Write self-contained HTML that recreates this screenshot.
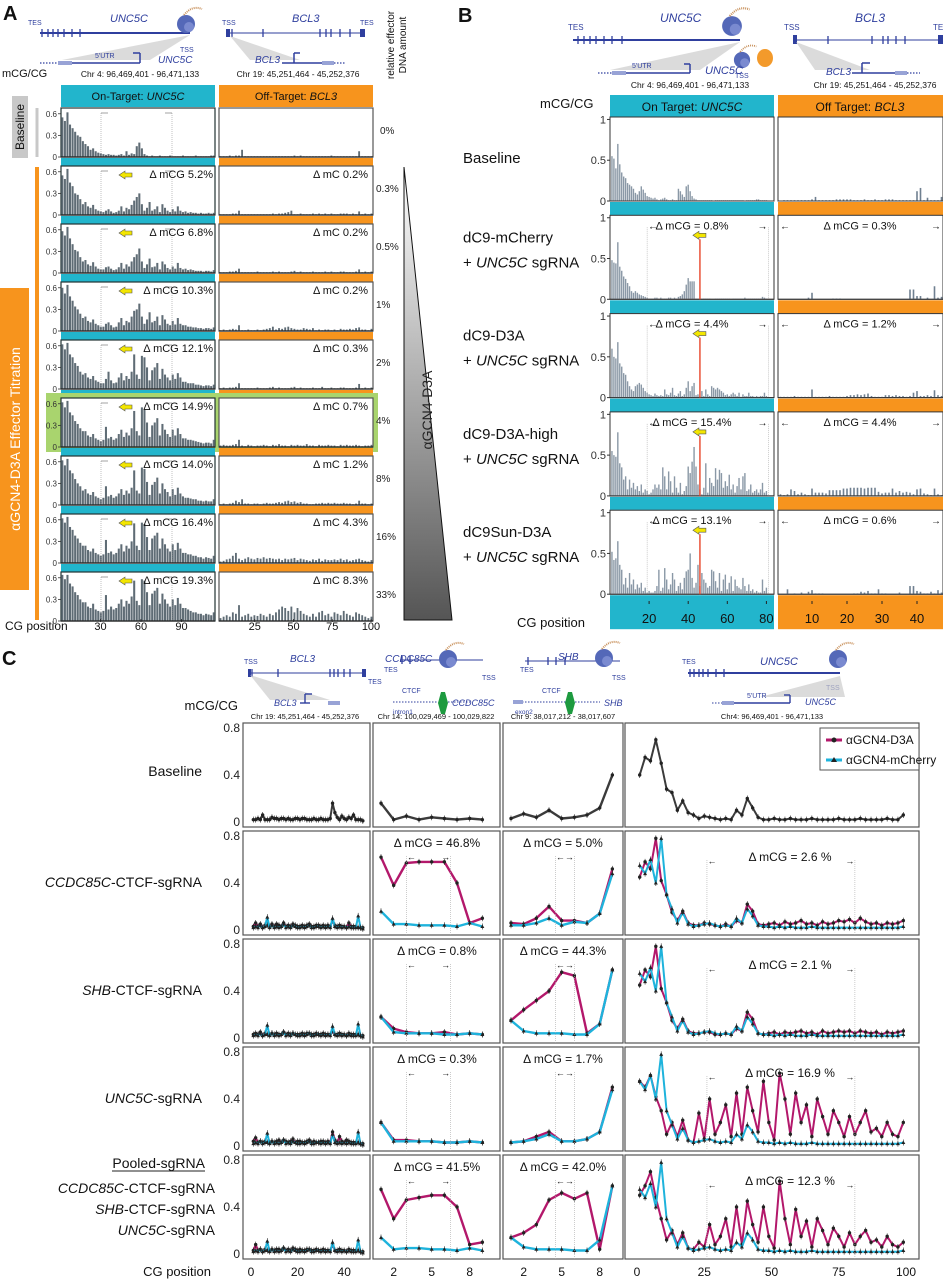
<!DOCTYPE html>
<html><head><meta charset="utf-8"><style>
html,body{margin:0;padding:0;background:#fff}
svg{display:block;font-family:"Liberation Sans",sans-serif}
</style></head><body>
<svg id="fig" width="943" height="1280" viewBox="0 0 943 1280" xmlns="http://www.w3.org/2000/svg">
<defs>
<linearGradient id="tri" x1="0" y1="0" x2="0" y2="1"><stop offset="0" stop-color="#ffffff"/><stop offset="1" stop-color="#555"/></linearGradient>
</defs>
</svg>
<script>
// ---------- Panel A data (mCG/CG in hundredths) ----------
const aOnRowLabels = ["0%","0.3%","0.5%","1%","2%","4%","8%","16%","33%"];
const aOnDelta = ["","Δ mCG 5.2%","Δ mCG 6.8%","Δ mCG 10.3%","Δ mCG 12.1%","Δ mCG 14.9%","Δ mCG 14.0%","Δ mCG 16.4%","Δ mCG 19.3%"];
const aOffDelta = ["","Δ mC 0.2%","Δ mC 0.2%","Δ mC 0.2%","Δ mC 0.3%","Δ mC 0.7%","Δ mC 1.2%","Δ mC 4.3%","Δ mC 8.3%"];
const aOn0 = [55,50,62,45,40,35,30,28,22,18,15,10,12,8,6,5,4,3,4,3,3,2,3,4,2,8,3,5,4,15,20,12,4,2,1,2,1,1,2,1,1,1,2,1,1,1,1,2,1,1,1,1,2,1,1,1,1,1,2,2];
const aOn1 = [55,50,64,45,40,30,28,22,15,18,12,10,14,8,6,5,4,6,8,5,3,4,6,12,5,10,8,14,20,25,30,15,6,10,18,6,8,12,4,15,10,6,4,8,5,12,6,4,5,3,4,3,3,2,3,2,2,3,2,3];
const aOn2 = [58,52,64,48,40,32,30,22,16,18,12,10,15,9,6,5,5,8,9,6,4,5,8,14,6,12,9,16,22,26,34,16,7,12,20,8,9,14,5,16,12,7,5,9,6,14,7,5,6,4,5,4,3,3,3,2,3,3,2,4];
const aOn3 = [60,52,64,48,42,34,30,24,18,20,14,12,16,10,8,6,6,10,12,8,5,6,12,18,8,14,12,20,28,30,38,20,10,16,26,12,14,20,8,22,16,10,8,14,9,18,10,8,8,6,6,5,5,4,4,3,4,4,3,5];
const aOn4 = [62,55,64,48,44,36,32,24,20,22,16,14,18,12,10,8,8,14,24,12,8,9,16,22,12,18,14,24,48,20,14,46,44,30,12,26,30,36,14,28,20,16,12,20,14,22,16,10,10,8,8,8,6,6,5,4,5,5,4,6];
const aOn5 = [62,55,64,48,44,36,32,26,22,22,16,14,18,12,10,8,10,28,12,14,10,12,18,24,14,20,16,26,50,22,16,55,52,34,14,30,34,40,16,32,24,18,14,24,16,26,18,12,12,10,10,9,8,7,6,5,6,6,5,10];
const aOn6 = [62,55,64,48,44,36,30,26,20,22,16,14,18,12,10,8,10,26,12,14,10,12,16,22,14,20,16,24,48,20,16,52,50,32,14,28,32,38,16,30,22,18,12,22,14,24,16,12,10,10,9,8,8,6,6,5,6,5,5,8];
const aOn7 = [62,56,64,50,46,38,34,28,24,24,18,16,20,14,12,10,12,32,14,16,12,14,20,26,16,24,20,30,55,24,18,56,54,36,18,34,38,42,20,34,26,20,16,26,18,28,20,14,14,12,12,10,10,8,8,6,8,7,6,10];
const aOn8 = [64,58,64,52,48,40,36,30,26,26,20,18,24,16,14,12,14,36,16,20,16,18,24,30,20,28,24,34,56,28,22,58,56,40,22,38,42,46,24,38,30,24,20,30,22,32,24,18,18,16,14,12,12,10,10,8,10,9,8,12];
const aOff0 = [1,1,1,2,1,2,2,10,1,1,1,1,1,1,1,1,1,1,1,1,1,1,1,1,2,1,2,1,1,1,1,1,1,1,1,1,2,1,1,1,1,1,1,1,1,8,1,1,1,1];
const aOff1 = [1,1,1,1,2,2,6,1,1,1,1,1,1,1,1,1,1,2,1,2,2,3,4,6,1,1,2,1,1,1,2,1,2,1,2,1,2,1,1,2,2,2,1,2,1,5,1,2,1,2];
const aOff2 = [1,1,1,2,2,3,6,1,1,1,1,1,2,1,1,1,1,2,1,2,1,1,1,2,3,1,2,1,1,1,2,1,1,1,2,1,2,1,1,2,2,1,1,1,2,5,1,2,1,2];
const aOff3 = [1,2,1,2,3,2,8,1,1,2,1,1,2,1,2,3,4,6,2,4,3,5,6,4,3,2,2,4,3,2,4,1,2,1,2,2,1,2,1,3,2,2,3,2,4,5,2,2,1,3];
const aOff4 = [1,2,1,2,2,3,8,1,1,1,1,1,2,1,1,1,2,3,1,2,1,1,1,2,3,1,2,1,1,1,2,1,1,3,1,1,2,1,1,2,2,1,1,1,2,7,1,2,1,2];
const aOff5 = [2,3,2,2,3,4,10,2,1,3,2,1,2,2,3,2,1,3,2,4,2,2,1,3,2,3,2,2,4,2,2,1,3,2,2,3,2,2,1,3,2,3,2,2,3,2,1,2,2,3];
const aOff6 = [1,2,1,2,3,6,4,8,2,2,1,2,2,1,2,3,2,2,3,4,3,5,6,4,5,3,4,2,2,1,1,2,2,3,2,3,2,3,2,2,3,2,2,1,2,6,2,2,1,2];
const aOff7 = [2,3,5,6,10,14,6,4,6,8,6,5,7,6,8,6,7,6,5,6,4,6,5,6,7,4,6,5,4,3,5,4,6,3,5,4,4,5,4,6,4,5,3,4,5,6,4,3,2,4];
const aOff8 = [4,6,8,6,12,10,22,6,8,10,6,8,7,10,8,6,10,8,12,16,20,18,14,20,12,18,14,10,8,6,10,6,12,14,8,10,6,12,10,8,14,10,8,6,12,10,8,6,4,6];
const aOnRows = [aOn0,aOn1,aOn2,aOn3,aOn4,aOn5,aOn6,aOn7,aOn8];
const aOffRows = [aOff0,aOff1,aOff2,aOff3,aOff4,aOff5,aOff6,aOff7,aOff8];
const aOnTicks = [30,60,90];
const aOffTicks = [25,50,75,100];
const aYTicks = [0.6,0.3,0];

// ---------- Panel B data ----------
const bRowLabel1 = ["Baseline","dC9-mCherry","dC9-D3A","dC9-D3A-high","dC9Sun-D3A"];
const bOnDelta = ["","Δ mCG = 0.8%","Δ mCG = 4.4%","Δ mCG = 15.4%","Δ mCG = 13.1%"];
const bOffDelta = ["","Δ mCG = 0.3%","Δ mCG = 1.2%","Δ mCG = 4.4%","Δ mCG = 0.6%"];
const bOn0 = [55,52,40,70,45,35,30,28,22,20,18,15,10,8,12,18,14,10,6,5,4,3,4,2,1,2,3,4,2,1,1,2,1,1,15,12,8,5,18,20,12,6,3,2,1,1,1,1,1,1,1,1,0,1,1,1,1,1,1,1,1,1,1,1,1,1,1,1,0,1,1,1,1,1,2,2,1,1,1,1];
const bOn1 = [48,45,44,70,40,35,28,25,20,16,10,8,10,8,6,5,4,3,2,1,1,1,2,2,1,2,1,1,1,2,2,1,2,1,3,4,6,10,18,26,22,22,22,1,1,1,0,1,1,1,1,0,0,1,1,1,1,1,1,1,1,0,1,1,1,1,1,1,2,1,1,1,1,1,1,1,1,3,2,1];
const bOn2 = [60,50,48,68,42,38,30,28,20,14,10,8,14,16,18,16,12,8,6,4,3,2,5,3,2,3,2,10,4,3,6,12,3,2,5,8,2,4,12,20,8,14,18,3,4,2,8,2,10,4,2,14,12,10,12,10,8,6,3,4,2,4,6,4,2,6,1,4,2,2,6,2,2,1,2,1,2,2,6,2];
const bOn3 = [55,50,48,78,40,35,20,24,8,20,10,16,8,12,6,14,4,8,6,2,4,8,14,10,14,8,35,24,8,30,18,4,24,10,4,16,2,6,12,36,28,42,60,36,14,8,2,10,40,4,22,16,12,34,20,32,28,10,18,12,26,8,14,4,12,22,8,24,28,6,8,14,4,6,8,4,8,16,4,6];
const bOn4 = [52,42,44,65,36,30,12,20,8,26,12,18,6,12,8,14,4,8,2,4,2,2,4,10,30,4,8,32,18,6,12,26,18,4,10,14,6,20,28,30,50,20,8,14,36,10,26,18,14,8,10,30,28,16,8,26,4,18,24,6,14,22,4,18,10,8,6,20,10,4,12,4,6,2,4,2,2,18,4,8];
const bOff0 = [0,1,1,1,1,1,1,1,1,2,5,1,1,1,1,1,2,2,2,2,2,1,1,1,2,1,1,2,1,1,2,2,2,1,1,1,1,1,1,12,16,1,4,1,1,1,5];
const bOff1 = [0,0,0,0,0,0,0,0,2,8,0,0,0,0,0,1,1,1,0,0,0,0,0,0,0,0,0,0,0,0,0,0,0,0,0,0,0,12,12,4,4,0,2,0,16,2,3];
const bOff2 = [1,1,1,1,2,1,1,1,1,10,1,1,1,1,2,1,1,1,1,2,3,3,4,3,4,5,2,1,1,1,3,3,2,3,2,2,1,2,6,8,2,2,3,2,9,3,2];
const bOff3 = [2,1,2,8,6,2,4,2,1,9,4,4,4,3,7,7,7,7,9,9,10,10,10,10,9,10,10,10,5,3,4,4,9,4,6,4,5,4,2,8,9,3,2,1,9,2,1];
const bOff4 = [0,0,6,0,1,0,2,0,3,5,1,1,1,0,0,0,0,0,0,0,0,1,1,3,2,4,1,1,6,1,1,0,0,0,2,0,0,10,10,4,3,1,1,3,1,5,2];
const bOnRows = [bOn0,bOn1,bOn2,bOn3,bOn4];
const bOffRows = [bOff0,bOff1,bOff2,bOff3,bOff4];
const bOnTicks = [20,40,60,80];
const bOffTicks = [10,20,30,40];
const bYTicks = [1,0.5,0];

// ---------- Panel C data ----------
const cYTicks = [0.8,0.4,0];
const c1Ticks = [0,20,40];
const c2Ticks = [2,5,8];
const c4Ticks = [0,25,50,75,100];
const cBase1 = [2,2,3,2,6,2,2,2,4,3,3,2,3,3,2,3,2,2,3,3,2,3,3,2,2,2,3,2,2,3,2,2,2,3,16,8,4,2,5,3,2,4,3,6,2,2,2,1];
const cBase2 = [16,2,5,2,4,3,2,3,2];
const cBase3 = [3,7,4,10,3,4,6,12,40];
const cBase4 = [40,55,52,70,50,28,25,10,18,8,6,3,5,4,3,2,3,2,10,6,20,12,4,2,2,3,2,2,3,2,2,2,3,2,2,2,2,3,2,2,2,3,2,2,2,2,3,2,2,6];
const cCy1 = [2,3,2,4,2,3,11,2,4,2,3,2,3,5,2,3,2,4,3,2,2,3,2,3,4,2,2,3,3,2,3,2,3,2,10,3,2,3,2,3,2,3,2,2,2,12,2,1];
const cCy4 = [55,48,60,40,78,30,18,6,15,5,3,4,5,6,4,3,4,3,10,6,18,12,4,3,3,2,3,2,3,2,2,2,3,2,2,2,2,2,2,2,2,2,2,2,2,2,2,2,2,3];
const cCy2r = [[16,5,5,4,4,4,3,6,3],[18,5,4,4,4,3,3,4,3],[20,4,4,4,4,3,3,4,3],[14,4,5,5,4,4,3,5,3]];
const cCy3r = [[4,4,6,10,4,7,6,14,48],[15,6,4,4,4,3,3,12,58],[3,4,6,10,4,4,6,12,48],[14,6,4,4,4,3,3,12,58]];
const cMg1r = [[3,6,3,5,2,4,4,3,5,3,5,4,3,6,3,4,3,5,4,3,3,4,3,4,5,3,3,4,4,3,4,3,4,3,8,4,3,4,3,3,2,6,3,3,3,2,2,2],
 [3,4,3,5,2,4,3,3,4,3,4,3,3,5,3,4,3,4,3,3,3,4,3,4,4,3,3,4,3,3,4,3,3,3,6,3,3,4,3,3,2,4,3,3,3,3,2,2],
 [4,7,3,4,3,4,3,3,4,3,4,5,3,5,4,3,4,6,3,4,4,3,3,4,5,3,4,3,3,4,4,3,4,3,12,5,3,8,4,3,5,4,3,3,3,3,2,2],
 [3,8,3,4,2,4,3,3,4,3,4,4,3,5,3,4,3,5,4,3,4,3,3,4,4,3,3,4,3,3,4,3,3,3,8,3,3,4,3,3,2,4,3,3,3,3,2,2]];
const cMg2r = [[62,38,57,58,58,58,40,6,10],[18,8,5,4,4,5,3,4,3],[20,5,5,4,4,3,3,4,3],[55,30,46,48,50,50,40,8,10]];
const cMg3r = [[6,5,10,20,8,8,6,14,52],[15,24,32,40,56,53,4,12,58],[3,4,8,12,4,4,6,12,50],[14,18,25,46,52,47,52,4,58]];
const cMg4r = [[45,58,52,78,42,30,15,8,16,6,4,4,6,5,4,3,5,3,8,6,22,16,5,4,5,6,4,7,5,6,8,5,6,4,7,5,6,8,7,9,6,10,7,5,6,4,6,5,6,8],
 [45,58,52,78,42,30,15,8,16,6,4,4,5,5,3,3,4,3,8,6,22,16,4,3,4,5,3,5,4,5,6,4,5,3,6,4,5,6,5,6,4,6,5,4,5,3,5,4,5,6],
 [55,50,60,42,30,10,20,8,22,5,3,28,6,40,10,20,35,8,45,10,50,30,12,55,20,5,62,40,10,45,20,35,8,40,25,10,30,20,8,25,10,20,30,12,15,8,20,10,8,20],
 [50,58,70,48,30,12,20,8,18,5,4,10,6,25,8,15,30,6,40,8,45,25,10,40,15,5,62,30,8,38,15,28,6,30,20,8,22,15,6,18,8,15,20,10,12,6,15,8,6,10]];
const cDelta2 = ["Δ mCG = 46.8%","Δ mCG = 0.8%","Δ mCG = 0.3%","Δ mCG = 41.5%"];
const cDelta3 = ["Δ mCG = 5.0%","Δ mCG = 44.3%","Δ mCG = 1.7%","Δ mCG = 42.0%"];
const cDelta4 = ["Δ mCG = 2.6 %","Δ mCG = 2.1 %","Δ mCG = 16.9 %","Δ mCG = 12.3 %"];

const NS="http://www.w3.org/2000/svg";
const svg=document.getElementById('fig');
function mk(tag,a,p){const e=document.createElementNS(NS,tag);for(const k in a)e.setAttribute(k,a[k]);(p||svg).appendChild(e);return e;}
function T(x,y,s,size,opt){opt=opt||{};const e=mk('text',{x:x,y:y,'font-size':size,fill:opt.fill||'#111','text-anchor':opt.anchor||'start','font-style':opt.italic?'italic':'normal','font-weight':opt.bold?'bold':'normal'});if(opt.rot)e.setAttribute('transform','rotate('+opt.rot+' '+x+' '+y+')');e.textContent=s;return e;}
// mixed text: parts = [[string, italic], ...]
function TS(x,y,parts,size,anchor,fill){const e=mk('text',{x:x,y:y,'font-size':size,fill:fill||'#111','text-anchor':anchor||'start'});e.setAttribute('xml:space','preserve');
 parts.forEach(p=>{const t=mk('tspan',{'font-style':p[1]?'italic':'normal'},e);t.textContent=p[0];});return e;}
function R(x,y,w,h,fill,stroke,sw){return mk('rect',{x:x,y:y,width:w,height:h,fill:fill,stroke:stroke||'none','stroke-width':sw||1});}
function L(x1,y1,x2,y2,c,w,dash){const e=mk('line',{x1:x1,y1:y1,x2:x2,y2:y2,stroke:c,'stroke-width':w||1});if(dash)e.setAttribute('stroke-dasharray',dash);return e;}
const BLUE='#2f3f9e', CYAN='#22b5cc', ORANGE='#f7941d', MAG='#b3186b', CY2='#1eb3dc';

function yellowArrow(x,y){const e=mk('polygon',{points:(x)+','+(y)+' '+(x+6)+','+(y-4)+' '+(x+6)+','+(y-2)+' '+(x+13)+','+(y-2)+' '+(x+13)+','+(y+2)+' '+(x+6)+','+(y+2)+' '+(x+6)+','+(y+4),fill:'#f3e600',stroke:'#555','stroke-width':0.6});

}

function proteinIcon(x,y,s){const g=mk('g',{});
mk('circle',{cx:x,cy:y,r:9*s,fill:'#5468b8'},g);mk('circle',{cx:x+3*s,cy:y+3*s,r:5*s,fill:'#7a8ad0'},g);
mk('path',{d:'M'+(x-2*s)+' '+(y-9*s)+' q'+(8*s)+' '+(-10*s)+' '+(18*s)+' '+(-6*s),stroke:'#c8905a','stroke-width':2*s,fill:'none','stroke-dasharray':'1 1'},g);}

function gene(x1,x2,y,exons,w){L(x1,y,x2,y,BLUE,w||1.5);exons.forEach(ex=>{L(ex,y-4,ex,y+4,BLUE,1.3);});}

// ================= PANEL A =================
T(3,20,'A',20,{bold:true});
(function(){const g=mk('g',{});
gene(40,190,33,[42,48,53,58,64,72,80],2);T(28,25,'TES',7,{fill:BLUE});T(110,22,'UNC5C',11,{fill:BLUE,italic:true});proteinIcon(186,24,1);T(180,52,'TSS',7,{fill:BLUE});
mk('polygon',{points:'190,35 62,60 150,60',fill:'#ccc',opacity:0.7});
L(40,63,58,63,BLUE,1.2,'1.5 1.5');R(58,61,14,4,'#98a3d6');L(72,63,140,63,BLUE,1.5);L(140,63,140,53,BLUE,1.5);L(140,53,133,53,BLUE,1.5);
T(95,58,"5'UTR",7,{fill:BLUE});T(158,63,'UNC5C',10,{fill:BLUE,italic:true});
gene(228,362,33,[232,263,320,326,331,340,350],1);R(226,29,4,8,BLUE);R(360,29,5,8,BLUE);T(222,25,'TSS',7,{fill:BLUE});T(360,25,'TES',7,{fill:BLUE});T(292,22,'BCL3',11,{fill:BLUE,italic:true});
mk('polygon',{points:'230,36 250,60 300,60',fill:'#ccc',opacity:0.7});
T(255,63,'BCL3',10,{fill:BLUE,italic:true});L(282,63,294,63,BLUE,1.5);L(294,63,294,53,BLUE,1.5);L(294,53,300,53,BLUE,1.5);L(294,63,322,63,BLUE,1.5);R(322,61,12,4,'#98a3d6');L(334,63,345,63,BLUE,1.2,'1.5 1.5');
T(2,77,'mCG/CG',11);T(140,77,'Chr 4: 96,469,401 - 96,471,133',8.5,{anchor:'middle'});T(298,77,'Chr 19: 45,251,464 - 45,252,376',8.5,{anchor:'middle'});
T(394,45,'relative effector',10,{anchor:'middle',rot:-90});T(406,45,'DNA amount',10,{anchor:'middle',rot:-90});})();

let h=R(61,85,154,22,CYAN);
let ht=TS(138,100,[['On-Target: ',false],['UNC5C',true]],11,'middle');
h=R(219,85,154,22,ORANGE);
TS(296,100,[['Off-Target: ',false],['BCL3',true]],11,'middle');

// left labels
let lb=R(12,96,16,62,'#c8c8c8');
T(24,127,'Baseline',12,{anchor:'middle',rot:-90});
L(37,108,37,157,'#c8c8c8',3);
L(37,167,37,620,ORANGE,4);
lb=R(0,288,29,302,ORANGE);
T(20,439,'αGCN4-D3A Effector Titration',14,{anchor:'middle',rot:-90,fill:'#fff'});

const AVMAX=0.68;
for(let i=0;i<9;i++){
 const top=108+58*i, ph=49, bot=top+ph;
 const gOn=mk('g',{});
 if(i===5){const hl=R(46,top-5,332,ph+10,'#a9d46e');}
 R(61,top,154,ph,'#fff','#233',1.2);
 R(219,top,154,ph,'#fff','#555',1.2);
 const on=aOnRows[i], off=aOffRows[i];
 const bw1=154/on.length;
 on.forEach((v,j)=>{const bh=v/100/AVMAX*ph;const r=R(61+j*bw1+0.3,bot-bh,bw1*0.8,bh,'#5f6c75');
  
  });
 const bw2=154/off.length;
 off.forEach((v,j)=>{const bh=v/100/AVMAX*ph;const r=R(219+j*bw2+0.6,bot-bh,bw2*0.6,bh,'#5f6c75');
  
  });
 L(61,bot,215,bot,'#222',1.2);L(219,bot,373,bot,'#222',1.2);
 L(101,top+5,101,bot,'#999',0.6,'1 1');L(172,top+5,172,bot,'#999',0.6,'1 1');L(101,top+5,108,top+5,'#666',0.6);L(165,top+5,172,top+5,'#666',0.6);
 aYTicks.forEach(t=>{const y=bot-t/AVMAX*ph;T(57,y+3,String(t),8,{anchor:'end',fill:'#333'});L(58,y,61,y,'#333',0.8);});
 if(aOnDelta[i]){yellowArrow(119,top+9);const d=T(213,top+12,aOnDelta[i],11,{anchor:'end'});
  const d2=T(368,top+12,aOffDelta[i],11,{anchor:'end'});}
 const pl=T(i===0?380:376,top+26,aOnRowLabels[i],10,{fill:'#222'});
 if(i<8){R(61,bot+1,154,8,CYAN);R(219,bot+1,154,8,ORANGE);}
}
aOnTicks.forEach(t=>{const x=60+t*1.35;T(x,630,String(t),11,{anchor:'middle'});L(x,619,x,622,'#222',0.8);});
aOffTicks.forEach(t=>{const x=216+t*1.55;T(x,630,String(t),11,{anchor:'middle'});L(x,619,x,622,'#222',0.8);});
T(5,630,'CG position',12);
let tri=mk('polygon',{points:'404,167 452,620 404,620',fill:'url(#tri)',stroke:'#111','stroke-width':1});


T(432,410,'αGCN4-D3A',14,{anchor:'middle',rot:-90,fill:'#222'});

// ================= PANEL B =================
T(458,22,'B',20,{bold:true});
(function(){gene(573,740,40,[578,584,590,596,604,612,622],2);T(568,30,'TES',8,{fill:BLUE});T(660,22,'UNC5C',12,{fill:BLUE,italic:true});proteinIcon(732,26,1.1);proteinIcon(742,60,0.9);
mk('ellipse',{cx:765,cy:58,rx:8,ry:9,fill:'#f39a2b'});T(735,78,'TSS',7,{fill:BLUE});
mk('polygon',{points:'740,42 610,70 700,70',fill:'#ccc',opacity:0.7});
L(598,73,612,73,BLUE,1.2,'1.5 1.5');R(612,71,14,4,'#98a3d6');L(626,73,690,73,BLUE,1.5);L(690,73,690,64,BLUE,1.5);L(690,64,684,64,BLUE,1.5);T(632,68,"5'UTR",7,{fill:BLUE});T(705,74,'UNC5C',11,{fill:BLUE,italic:true});
gene(795,940,40,[828,872,883,888,896,905],1);R(793,35,4,9,BLUE);R(938,35,5,9,BLUE);T(784,30,'TSS',8,{fill:BLUE});T(933,30,'TES',8,{fill:BLUE});T(855,22,'BCL3',12,{fill:BLUE,italic:true});
mk('polygon',{points:'796,42 815,70 870,70',fill:'#ccc',opacity:0.7});
T(826,75,'BCL3',10,{fill:BLUE,italic:true});L(852,73,862,73,BLUE,1.5);L(862,73,862,63,BLUE,1.5);L(862,63,870,63,BLUE,1.5);L(862,73,895,73,BLUE,1.5);R(895,71,12,4,'#98a3d6');L(907,73,920,73,BLUE,1.2,'1.5 1.5');
T(690,88,'Chr 4: 96,469,401 - 96,471,133',8.5,{anchor:'middle'});T(875,88,'Chr 19: 45,251,464 - 45,252,376',8.5,{anchor:'middle'});})();
T(540,108,'mCG/CG',13);
h=R(610,95,164,22,CYAN);
TS(692,111,[['On Target: ',false],['UNC5C',true]],12,'middle');
h=R(778,95,165,22,ORANGE);
TS(860,111,[['Off Target: ',false],['BCL3',true]],12,'middle');
const bxOn=p=>610+p*1.955, bxOff=p=>777+(p)*3.5;
for(let i=0;i<5;i++){
 const top=117+98.3*i, ph=84, bot=top+ph;
 const yv=v=>bot-v/1.03*ph;
 R(610,top,164,ph,'#fff','#333',1);R(778,top,165,ph,'#fff','#333',1);
 bOnRows[i].forEach((v,j)=>{const x=bxOn(j+1);const r=R(x-0.7,yv(v/100),1.4,bot-yv(v/100),'#8a98a6');
  
  });
 bOffRows[i].forEach((v,j)=>{const x=bxOff(j+1);const r=R(x-0.8,yv(v/100),1.6,bot-yv(v/100),'#6f8090');
  
  });
 L(610,bot,774,bot,'#333',1);L(778,bot,943,bot,'#333',1);
 bYTicks.forEach(t=>{const y=yv(t);T(606,y+4,String(t),11,{anchor:'end',fill:'#333'});L(607,y,610,y,'#333',1);});
 const lab=T(463,top+46,bRowLabel1[i],15);
 if(i>0){lab.setAttribute('y',top+27);
  TS(463,top+52,[['+ ',false],['UNC5C',true],[' sgRNA',false]],15);
  L(bxOn(19),top+12,bxOn(19),bot,'#aaa',0.6,'1 1');L(bxOn(81),top+12,bxOn(81),bot,'#aaa',0.6,'1 1');
  T(bxOn(22),top+14,'←',10,{anchor:'middle'});T(bxOn(78),top+14,'→',10,{anchor:'middle'});
  const d=T(692,top+14,bOnDelta[i],11,{anchor:'middle'});
  const d2=T(860,top+14,bOffDelta[i],11,{anchor:'middle'});
  T(785,top+14,'←',10,{anchor:'middle'});T(936,top+14,'→',10,{anchor:'middle'});
  L(bxOn(46),top+24,bxOn(46),bot,'#e8452a',1.4);yellowArrow(bxOn(46)-7,top+20);}
 if(i<4){R(610,bot+1,164,13,CYAN);R(778,bot+1,165,13,ORANGE);}
 else{R(610,bot+1,164,34,CYAN);R(778,bot+1,165,34,ORANGE);}
}
bOnTicks.forEach(t=>{const x=bxOn(t);T(x,623,String(t),13,{anchor:'middle'});L(x,601,x,604,'#222',1);});
bOffTicks.forEach(t=>{const x=bxOff(t);T(x,623,String(t),13,{anchor:'middle'});L(x,601,x,604,'#222',1);});
T(517,627,'CG position',13);

// ================= PANEL C =================
T(2,665,'C',20,{bold:true});
(function(){
 gene(250,365,673,[252,278,330,334,338,344,350],1);R(248,669,3,8,BLUE);R(362,669,4,8,BLUE);T(244,664,'TSS',7,{fill:BLUE});T(368,684,'TES',7,{fill:BLUE});T(290,662,'BCL3',10,{fill:BLUE,italic:true});
 mk('polygon',{points:'250,675 270,700 330,700',fill:'#ccc',opacity:0.7});T(274,706,'BCL3',9,{fill:BLUE,italic:true});L(300,703,310,703,BLUE,1.4);L(305,703,305,694,BLUE,1.4);L(305,694,312,694,BLUE,1.4);R(328,701,12,4,'#98a3d6');
 gene(400,483,660,[402,410],1);T(384,672,'TES',7,{fill:BLUE});T(385,662,'CCDC85C',10,{fill:BLUE,italic:true});proteinIcon(448,659,1);T(482,680,'TSS',7,{fill:BLUE});
 L(393,702,438,702,BLUE,1,'1.5 1.5');mk('polygon',{points:'438,703 441,692 445,692 448,703 445,714 441,714',fill:'#1d9a3f'});L(448,702,470,702,BLUE,1,'1.5 1.5');T(402,693,'CTCF',7,{fill:BLUE});T(452,706,'CCDC85C',9,{fill:BLUE,italic:true});T(393,714,'intron1',6.5,{fill:BLUE});
 gene(525,620,661,[528,548,556,565],1);T(520,672,'TES',7,{fill:BLUE});T(558,660,'SHB',10,{fill:BLUE,italic:true});proteinIcon(604,658,1);T(612,680,'TSS',7,{fill:BLUE});
 L(513,702,570,702,BLUE,1,'1.5 1.5');R(513,700,10,4,'#98a3d6');mk('polygon',{points:'565,703 568,692 572,692 575,703 572,714 568,714',fill:'#1d9a3f'});L(575,702,600,702,BLUE,1,'1.5 1.5');T(542,693,'CTCF',7,{fill:BLUE});T(604,706,'SHB',9,{fill:BLUE,italic:true});T(515,714,'exon2',6.5,{fill:BLUE});
 gene(688,840,673,[690,694,699,703,708,716,724],2);T(682,664,'TES',7,{fill:BLUE});T(760,665,'UNC5C',11,{fill:BLUE,italic:true});proteinIcon(838,659,1);T(826,690,'TSS',7,{fill:BLUE});
 mk('polygon',{points:'840,676 760,697 845,697',fill:'#ccc',opacity:0.7});L(712,703,722,703,BLUE,1,'1.5 1.5');R(722,701,12,4,'#98a3d6');L(734,703,790,703,BLUE,1.4);L(790,703,790,695,BLUE,1.4);L(790,695,784,695,BLUE,1.4);T(747,698,"5'UTR",7,{fill:BLUE});T(805,705,'UNC5C',9,{fill:BLUE,italic:true});
 T(305,719,'Chr 19: 45,251,464 - 45,252,376',7.5,{anchor:'middle'});T(436,719,'Chr 14: 100,029,469 - 100,029,822',7.5,{anchor:'middle'});
 T(563,719,'Chr 9: 38,017,212 - 38,017,607',7.5,{anchor:'middle'});T(772,719,'Chr4: 96,469,401 - 96,471,133',7.5,{anchor:'middle'});
 T(238,710,'mCG/CG',13,{anchor:'end'});})();

const cols=[{x:243,w:127,xf:p=>251+p*2.33,step:1,start:1},{x:373,w:127,xf:p=>381+(p-1)*12.67,step:1,start:1},{x:503,w:120,xf:p=>511+(p-1)*12.67,step:1,start:1},{x:625,w:294,xf:p=>637+p*2.69,step:2,start:1}];
function series(data,col,yf,color,marker,name){
 const pts=data.map((v,j)=>[col.xf(col.start+j*col.step),yf(v/100)]);
 const pl=mk('polyline',{points:pts.map(p=>p[0].toFixed(1)+','+p[1].toFixed(1)).join(' '),fill:'none',stroke:color,'stroke-width':col.step===1&&col.x>300&&col.x<600?2.4:2,'stroke-linejoin':'round'});
 
 
 pts.forEach(p=>{L(p[0],p[1]-3,p[0],p[1]+3,'#222',0.6);
  let m;
  if(marker==='c')m=mk('circle',{cx:p[0],cy:p[1],r:1.7,fill:'#222'});
  else m=mk('polygon',{points:(p[0])+','+(p[1]-2)+' '+(p[0]-2)+','+(p[1]+1.5)+' '+(p[0]+2)+','+(p[1]+1.5),fill:'#222'});
  
  });
}
const cLabels=[['Baseline'],['CCDC85C','-CTCF-sgRNA'],['SHB','-CTCF-sgRNA'],['UNC5C','-sgRNA']];
for(let r=0;r<5;r++){
 const top=723+108*r, ph=104, bot=top+ph;
 const yf=v=>(bot-5)-v/0.8*(ph-10);
 cols.forEach((c,k)=>{const b=R(c.x,top,c.w,ph,'#fff','#555',1.2);});
 cYTicks.forEach(t=>{T(240,yf(t)+4,String(t),12,{anchor:'end',fill:'#222'});});
 if(r===0){
  series(cBase1,cols[0],yf,'#3b3b3b','c','baseline-bcl3');series(cBase2,cols[1],yf,'#3b3b3b','c','baseline-ccdc85c');
  series(cBase3,cols[2],yf,'#3b3b3b','c','baseline-shb');series(cBase4,cols[3],yf,'#3b3b3b','c','baseline-unc5c');
  const lt=T(202,776,'Baseline',14,{anchor:'end'});
 } else {
  const q=r-1;
  series(cMg1r[q],cols[0],yf,MAG,'c','d3a-bcl3');series(cCy1,cols[0],yf,CY2,'t','mcherry-bcl3');
  series(cMg2r[q],cols[1],yf,MAG,'c','d3a-ccdc85c');series(cCy2r[q],cols[1],yf,CY2,'t','mcherry-ccdc85c');
  series(cMg3r[q],cols[2],yf,MAG,'c','d3a-shb');series(cCy3r[q],cols[2],yf,CY2,'t','mcherry-shb');
  series(cMg4r[q],cols[3],yf,MAG,'c','d3a-unc5c');series(cCy4,cols[3],yf,CY2,'t','mcherry-unc5c');
  const d2=T(437,top+16,cDelta2[q],12,{anchor:'middle'});
  const d3=T(563,top+16,cDelta3[q],12,{anchor:'middle'});
  const d4=T(790,top+30,cDelta4[q],12,{anchor:'middle'});
  [[cols[1],3,6.5,top+28],[cols[2],4.5,6,top+28],[cols[3],26,81,top+32]].forEach(a=>{const xa=a[0].xf(a[1]),xb=a[0].xf(a[2]);
   L(xa,a[3]-3,xa,bot,'#aaa',0.6,'1 1');L(xb,a[3]-3,xb,bot,'#aaa',0.6,'1 1');T(xa+5,a[3]+1,'←',9,{anchor:'middle'});T(xb-5,a[3]+1,'→',9,{anchor:'middle'});});
  if(r<4){const lab=cLabels[r];const t1=TS(202,top+56,[[lab[0],true],[lab[1],false]],14,'end');}
 }
}
let pt=T(205,1168,'Pooled-sgRNA',14,{anchor:'end'});
L(112,1171,205,1171,'#222',1);
[['CCDC85C','-CTCF-sgRNA',1193],['SHB','-CTCF-sgRNA',1214],['UNC5C','-sgRNA',1235]].forEach(a=>{TS(215,a[2],[[a[0],true],[a[1],false]],14,'end');});
c1Ticks.forEach(t=>{const x=cols[0].xf(t);T(x,1276,String(t),12,{anchor:'middle'});});
c2Ticks.forEach(t=>{T(cols[1].xf(t),1276,String(t),12,{anchor:'middle'});T(cols[2].xf(t),1276,String(t),12,{anchor:'middle'});});
c4Ticks.forEach(t=>{T(cols[3].xf(t),1276,String(t),12,{anchor:'middle'});});
T(211,1276,'CG position',13,{anchor:'end'});
(function(){const g=mk('g',{});
R(820,728,99,42,'#fff','#555',1);
L(826,740,842,740,MAG,3);mk('circle',{cx:834,cy:740,r:2.5,fill:'#222'});
L(826,760,842,760,CY2,3);mk('polygon',{points:'834,757 831,762 837,762',fill:'#222'});
const e1=T(846,744,'αGCN4-D3A',12);
const e2=T(846,764,'αGCN4-mCherry',12);})();
</script>
</body></html>
